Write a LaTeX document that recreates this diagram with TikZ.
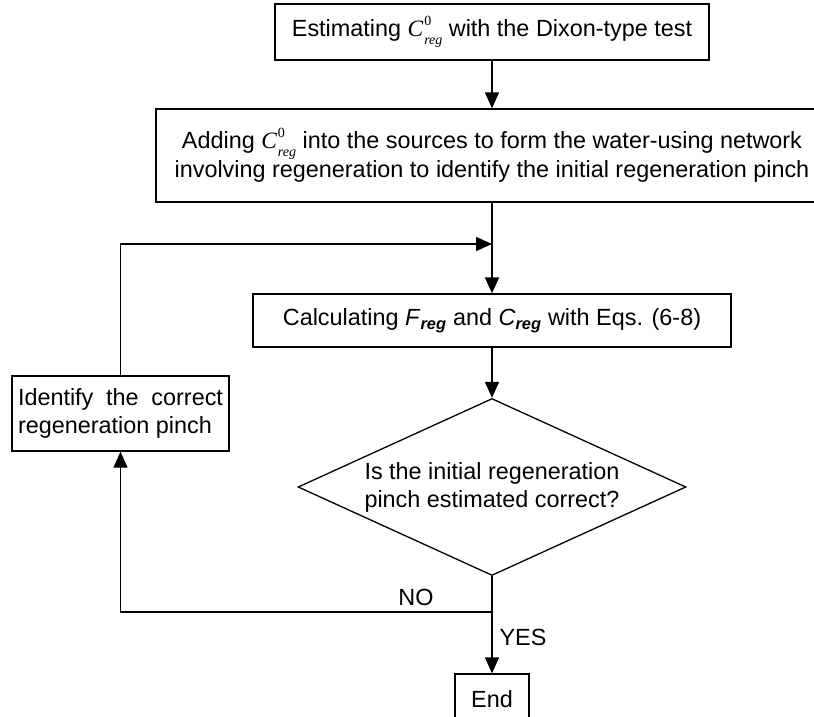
\documentclass[tikz,border=0pt]{standalone}
\usepackage{fontspec}
\setmainfont{Liberation Sans}
\newfontfamily\timesfont{Liberation Serif}
\usetikzlibrary{shapes.geometric,arrows.meta}

\newcommand{\czero}{{\timesfont\itshape C}\kern1pt\rlap{\raisebox{0.45em}{\timesfont\fontsize{14}{14}\selectfont 0}}\raisebox{-0.35em}{\timesfont\itshape\fontsize{14}{14}\selectfont reg}}
\newcommand{\subreg}[1]{\textit{#1}\textsubscript{\bfseries\itshape reg}}

\begin{document}
\begin{tikzpicture}[x=1pt, y=-1pt, line width=1.3pt,
    every node/.style={font=\fontsize{23.4}{28}\selectfont},
    stepbox/.style={draw, rectangle, inner sep=0pt},
    flow/.style={-{Triangle[length=16pt,width=14pt]}}]
      \useasboundingbox (0,0) rectangle (814,717);
      \node (est) at (492,32) [stepbox, minimum width=434, minimum height=56] {Estimating \czero\ with the Dixon-type test};
      \node (add) at (492,155.5) [stepbox, minimum width=672, minimum height=93, align=center] {Adding \czero\ into the sources to form the water-using network\\involving regeneration to identify the initial regeneration pinch};
      \node (calc) at (492,320.5) [stepbox, minimum width=478, minimum height=53] {Calculating \subreg{F} and \subreg{C} with Eqs. (6-8)};
      \node (check) at (492,487) [draw, diamond, aspect=2.2, inner sep=0pt, minimum width=388, minimum height=177, align=left] {Is the initial regeneration\\pinch estimated correct?};
      \node (fix) at (120.5,413.5) [stepbox, minimum width=217, minimum height=75, text width=205, align=justify] {Identify the correct regeneration pinch};
      \node (stop) at (492,699) [stepbox, minimum width=74, minimum height=50] {End};
      \coordinate (loop) at (492,244);
      \coordinate (no) at (492,612);
      \node (nolabel) at (416,597) {NO};
      \node (yeslabel) at (523,637) {YES};
      \draw[flow] (est) -- (add);
      \draw[flow] (add) -- (calc);
      \draw[flow] (fix.north) |- (loop);
      \draw[flow] (calc) -- (check);
      \draw (check.south) -- (no);
      \draw[flow] (no) -| (fix.south);
      \draw[flow] (no) -- (stop);
    \end{tikzpicture}
\end{document}
